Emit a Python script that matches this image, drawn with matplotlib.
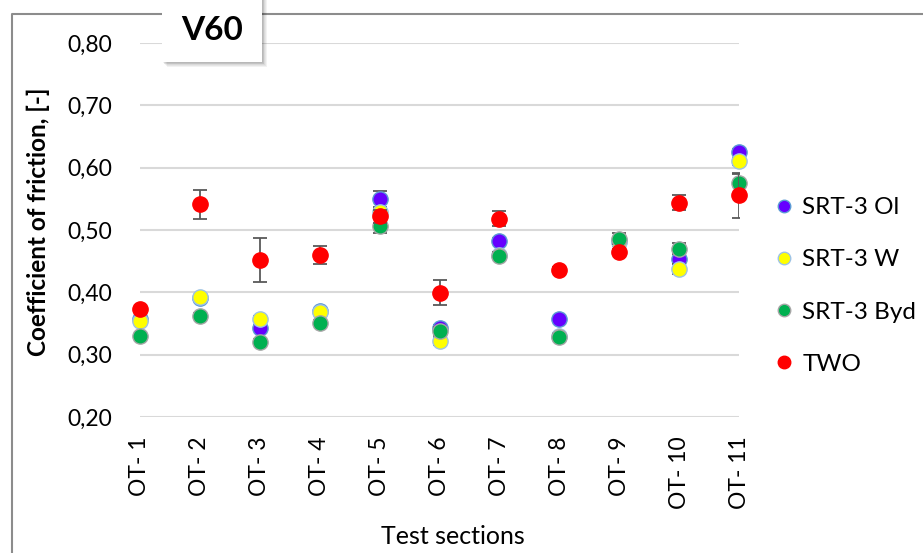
import matplotlib
matplotlib.use("Agg")
import matplotlib.pyplot as plt
from matplotlib.lines import Line2D
from matplotlib.patches import Rectangle
from matplotlib.ticker import FuncFormatter

plt.rcParams['font.family'] = ['Lato', 'DejaVu Sans']

sections = ["OT- 1", "OT- 2", "OT- 3", "OT- 4", "OT- 5", "OT- 6",
            "OT- 7", "OT- 8", "OT- 9", "OT- 10", "OT- 11"]

srt_ol = [0.357, 0.391, 0.343, 0.370, 0.549, 0.343, 0.483, 0.357, 0.482, 0.454, 0.625]
srt_w = [0.354, 0.392, 0.358, 0.368, 0.529, 0.322, 0.460, 0.330, 0.480, 0.438, 0.610]
srt_byd = [0.330, 0.362, 0.321, 0.351, 0.507, 0.338, 0.459, 0.329, 0.486, 0.470, 0.575]
two = [0.373, 0.541, 0.452, 0.460, 0.522, 0.399, 0.518, 0.436, 0.465, 0.544, 0.556]

srt_ol_err = [0.004, 0.004, 0.005, 0.004, 0.013, 0.005, 0.004, 0.004, 0.005, 0.008, 0.005]
srt_w_err = [0.004, 0.004, 0.004, 0.004, 0.008, 0.006, 0.005, 0.004, 0.005, 0.008, 0.006]
srt_byd_err = [0.004, 0.005, 0.004, 0.004, 0.012, 0.006, 0.006, 0.004, 0.009, 0.009, 0.015]
two_err = [0.004, 0.023, 0.035, 0.015, 0.010, 0.020, 0.012, 0.004, 0.005, 0.012, 0.036]

fig = plt.figure(figsize=(9.23, 5.53), dpi=100)
ax = fig.add_axes([140 / 923, 1 - 417 / 553, 599 / 923, 374 / 553])

x = list(range(len(sections)))
series = [
    ("SRT-3 Ol", srt_ol, srt_ol_err, "#6600FF", "#5B9BD5"),
    ("SRT-3 W", srt_w, srt_w_err, "#FFFF00", "#9DC3E6"),
    ("SRT-3 Byd", srt_byd, srt_byd_err, "#00B050", "#A6A6A6"),
    ("TWO", two, two_err, "#FF0000", "#FF0000"),
]
handles = []
for i, (name, vals, err, col, edge) in enumerate(series):
    ax.errorbar(x, vals, yerr=err, fmt="none", ecolor="#595959", elinewidth=1.3,
                capsize=5, capthick=1.3, zorder=3 + i)
    ax.plot(x, vals, "o", ms=11, mfc=col, mec=edge, mew=1, zorder=3 + i, clip_on=False)
    handles.append(Line2D([], [], marker="o", ls="none", ms=9, mfc=col, mec=edge, mew=1))

ax.set_xlim(0, 10)
ax.set_ylim(0.2, 0.8)
ax.set_yticks([0.2, 0.3, 0.4, 0.5, 0.6, 0.7, 0.8])
ax.yaxis.set_major_formatter(FuncFormatter(lambda v, p: f"{v:.2f}".replace(".", ",")))
ax.set_xticks(x)
ax.set_xticklabels(sections, rotation=90)
ax.tick_params(axis="both", length=0, labelsize=16.5, colors="#000000")
ax.tick_params(axis="y", pad=20)
ax.tick_params(axis="x", pad=14)
ax.grid(axis="y", color="#D9D9D9", lw=1.5)
ax.set_axisbelow(True)
for s in ax.spines.values():
    s.set_visible(False)

fig.text(38 / 923, 1 - 222 / 553, "Coefficient of friction, [-]", rotation=90,
         ha="center", va="center", fontsize=17.5, fontweight="bold")
fig.text(453 / 923, 1 - 537 / 553, "Test sections", ha="center", va="center", fontsize=18)

ax.legend(handles, [s[0] for s in series], loc="center left",
          bbox_to_anchor=(772 / 923, 1 - 286 / 553), bbox_transform=fig.transFigure,
          frameon=False, fontsize=17.5, handlelength=1, handletextpad=0.25,
          labelspacing=1.28, borderpad=0, borderaxespad=0)

# chart border (left and top, rest cropped)
fig.add_artist(Line2D([12 / 923, 12 / 923, 1], [0, 1 - 14 / 553, 1 - 14 / 553],
                      color="#8C8C8C", lw=1.5, transform=fig.transFigure))

# V60 label box with soft shadow
for k in range(6, 0, -1):
    fig.add_artist(Rectangle(((162 + k * 0.8) / 923, 1 - (62 + k * 0.8) / 553), 100 / 923, 80 / 553,
                             transform=fig.transFigure, fc="#000000", ec="none", alpha=0.05, zorder=5))
fig.add_artist(Rectangle((162 / 923, 1 - 62 / 553), 100 / 923, 80 / 553,
                         transform=fig.transFigure, fc="white", ec="none", zorder=6))
fig.text(212 / 923, 1 - 31 / 553, "V60", ha="center", va="center", fontsize=24,
         fontweight="bold", zorder=7)

fig.savefig("out.png", dpi=100)
